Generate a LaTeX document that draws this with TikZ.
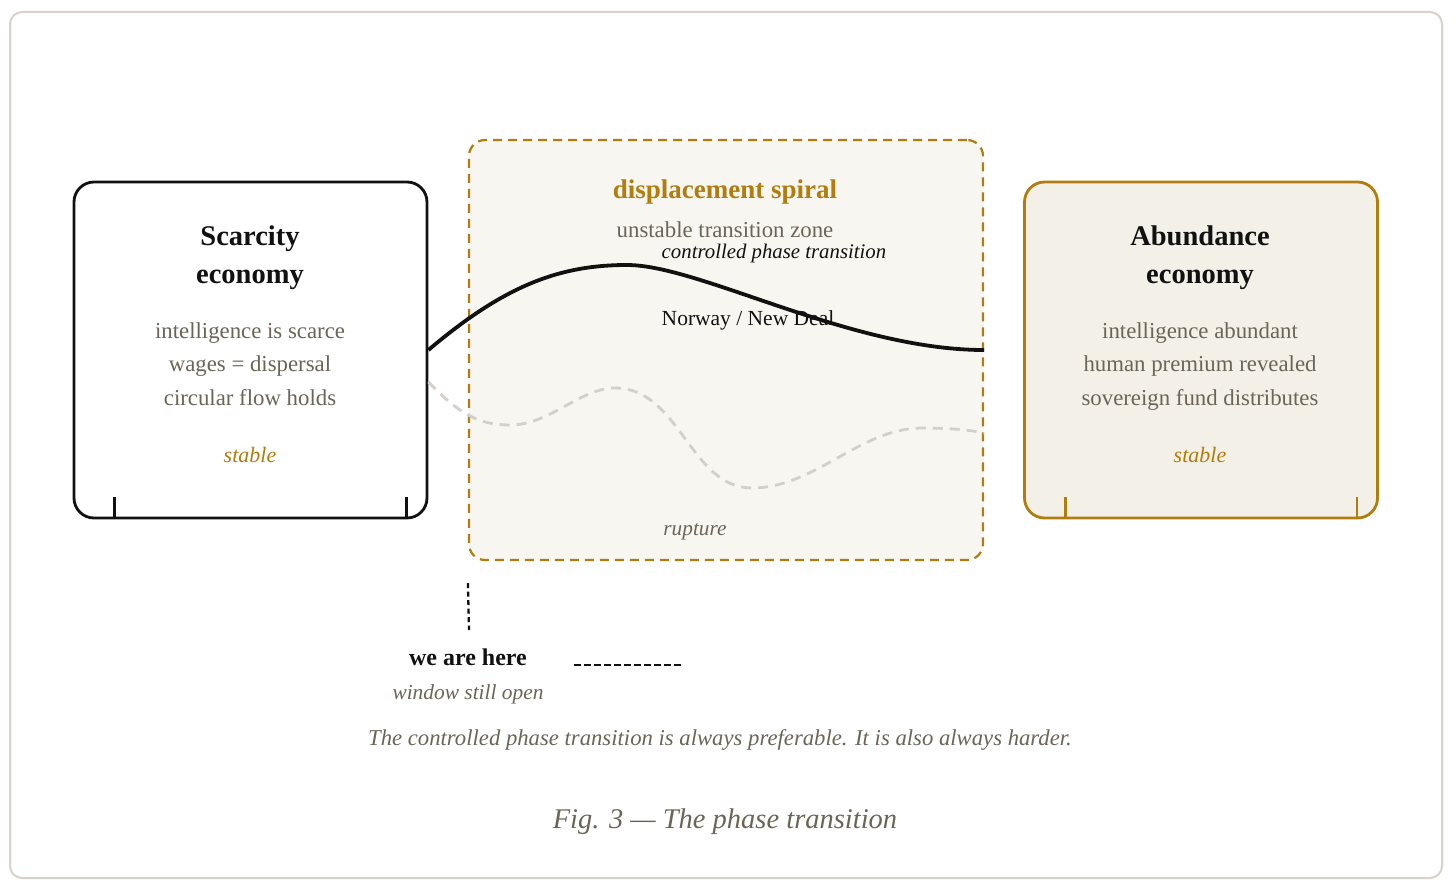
\documentclass[tikz,border=0pt]{standalone}
\usepackage{fontspec}
\setmainfont{Liberation Serif}
\definecolor{gold}{HTML}{B07D0E}
\definecolor{greytxt}{HTML}{6B6558}
\definecolor{framec}{HTML}{D6D3C9}
\definecolor{midfill}{HTML}{F7F6F1}
\definecolor{absfill}{HTML}{F3F0E7}
\definecolor{rupt}{HTML}{D3D0C7}
\definecolor{ink}{HTML}{111111}
\tikzset{
  box/.style={rounded corners=20pt, line width=2.8pt, inner sep=0pt, minimum width=353pt, minimum height=336pt},
  zonebox/.style={rounded corners=16pt, line width=2.2pt, draw=gold, fill=midfill, dash pattern=on 9pt off 6pt, inner sep=0pt, minimum width=514pt, minimum height=420pt},
  title/.style={anchor=base, font=\fontsize{28.5}{34}\selectfont\bfseries, text=ink, inner sep=0pt},
  body/.style={anchor=base, font=\fontsize{22.8}{27}\selectfont, text=greytxt, inner sep=0pt},
  stab/.style={anchor=base, font=\fontsize{22}{26}\selectfont\itshape, text=gold, inner sep=0pt},
  tick/.style={line width=2.8pt},
  ctrl/.style={line width=3.8pt, draw=ink},
  ruptline/.style={line width=2.8pt, draw=rupt, dash pattern=on 10pt off 7pt},
  marker/.style={line width=2.3pt, draw=ink, dash pattern=on 5pt off 3.5pt},
}
\begin{document}
\begin{tikzpicture}[x=1pt,y=-1pt]
\useasboundingbox (0,0) rectangle (1456,888);
\node[draw=framec, line width=2pt, rounded corners=12pt, minimum width=1432pt, minimum height=866pt, inner sep=0pt] (frame) at (726,445) {};

% middle zone
\node[zonebox] (zone) at (726,350) {};
\node[anchor=base, font=\fontsize{27}{32}\selectfont\bfseries, text=gold, inner sep=0pt] (ztitle) at (725,198) {displacement spiral};
\node[body] (zsub) at (725,237) {unstable transition zone};
\node[anchor=base, font=\fontsize{20.8}{25}\selectfont\itshape, text=ink, inner sep=0pt] (ctrllbl) at (774,258) {controlled phase transition};
\node[anchor=base, font=\fontsize{21.5}{26}\selectfont, text=ink, inner sep=0pt] (norway) at (748,325) {Norway / New Deal};
\node[anchor=base, font=\fontsize{21.3}{26}\selectfont\itshape, text=greytxt, inner sep=0pt] (rupture) at (695,535) {rupture};

% left box
\node[box, draw=ink, fill=white] (scar) at (250.5,350) {};
\draw[tick, draw=ink] ([xshift=42pt]scar.south west) -- ++(0,-22);
\draw[tick, draw=ink] ([xshift=-22pt]scar.south east) -- ++(0,-22);
\node[title] (s1) at (250,245) {Scarcity};
\node[title] (s2) at (250,283) {economy};
\node[body] (s3) at (250,338) {intelligence is scarce};
\node[body] (s4) at (250,371) {wages = dispersal};
\node[body] (s5) at (250,405) {circular flow holds};
\node[stab] (s6) at (250,462) {stable};

% right box
\node[box, draw=gold, fill=absfill] (abund) at (1201,350) {};
\draw[tick, draw=gold] ([xshift=42pt]abund.south west) -- ++(0,-22);
\draw[tick, draw=gold] ([xshift=-22pt]abund.south east) -- ++(0,-22);
\node[title] (a1) at (1200,245) {Abundance};
\node[title] (a2) at (1200,283) {economy};
\node[body] (a3) at (1200,338) {intelligence abundant};
\node[body] (a4) at (1200,371) {human premium revealed};
\node[body] (a5) at (1200,405) {sovereign fund distributes};
\node[stab] (a6) at (1200,462) {stable};

% curves
\draw[ruptline] ([yshift=-32pt]scar.east) .. controls (460,415) and (480,425) .. (510,425)
  .. controls (550,425) and (580,388) .. (615,388)
  .. controls (680,388) and (690,488) .. (752,488)
  .. controls (815,488) and (860,428) .. (922,428)
  .. controls (950,428) and (970,430) .. ([yshift=-83pt]zone.east);
\draw[ctrl] (scar.east) .. controls (505,285) and (560,265) .. (627,265)
  .. controls (700,265) and (850,350) .. (zone.east);

% we are here
\node[anchor=base, font=\fontsize{24}{28}\selectfont\bfseries, text=ink, inner sep=0pt] (here) at (468,665) {we are here};
\node[anchor=base, font=\fontsize{21.4}{25}\selectfont\itshape, text=greytxt, inner sep=0pt] (window) at (468,699) {window still open};
\coordinate (m1) at ([yshift=-22pt]zone.south west);
\coordinate (m2) at (469,630);
\draw[marker] (m1) -- (m2);
\coordinate (h1) at (574,665);
\coordinate (h2) at (684,665);
\draw[marker, dash pattern=on 7pt off 3pt] (h1) -- (h2);

\node[anchor=base, font=\fontsize{22.7}{27}\selectfont\itshape, text=greytxt, inner sep=0pt] (note) at (720,745) {The controlled phase transition is always preferable. It is also always harder.};
\node[anchor=base, font=\fontsize{28.5}{33}\selectfont\itshape, text=greytxt, inner sep=0pt] (fig) at (725,828) {Fig. 3 — The phase transition};
\end{tikzpicture}
\end{document}
